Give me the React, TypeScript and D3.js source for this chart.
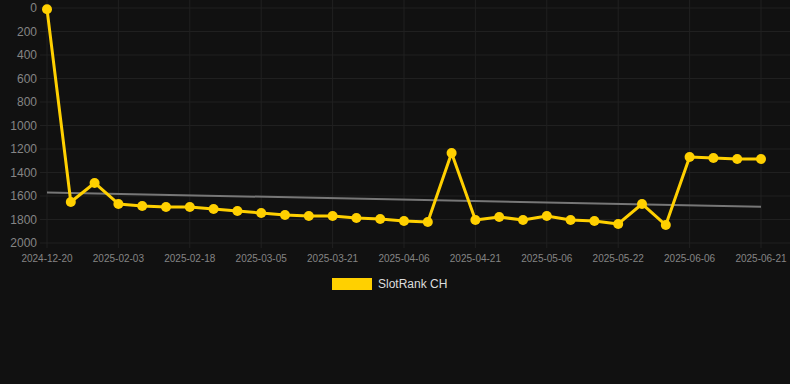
import React from "react";
import * as d3 from "d3";

const tickLabels = ["2024-12-20","2025-02-03","2025-02-18","2025-03-05","2025-03-21","2025-04-06","2025-04-21","2025-05-06","2025-05-22","2025-06-06","2025-06-21"];
const rankValues = [10,1651,1489,1668,1685,1694,1694,1711,1728,1745,1762,1770,1770,1787,1796,1813,1821,1234,1804,1779,1804,1770,1804,1813,1838,1668,1847,1268,1277,1285,1285];
const trendValues = [1570, 1691];
const yTicks = [0,200,400,600,800,1000,1200,1400,1600,1800,2000];
const seriesName = "SlotRank CH";

export default function App() {
  const W = 790, H = 384;
  const left = 47, right = 761, top = 8, bottom = 243;
  const x = d3.scaleLinear().domain([0, rankValues.length - 1]).range([left, right]);
  const y = d3.scaleLinear().domain([0, 2000]).range([top, bottom]);
  const line = d3.line<number>().x((_, i) => x(i)).y(d => y(d));
  const gold = "#FFD000";
  const gridC = "#202020";
  const txt = "#858585";
  const font = "Helvetica, Arial, 'Liberation Sans', sans-serif";
  return (
    <svg width={W} height={H} style={{ position: "absolute", left: 0, top: 0, background: "#111111" }} fontFamily={font}>
      <rect x={0} y={0} width={W} height={H} fill="#111111" />
      {yTicks.map(t => (
        <g key={t}>
          <line x1={40} x2={W} y1={y(t)} y2={y(t)} stroke={gridC} strokeWidth={1} />
          <text x={37} y={y(t)} dy="0.35em" textAnchor="end" fill={txt} fontSize={12}>{t}</text>
        </g>
      ))}
      {tickLabels.map((l, i) => (
        <g key={l}>
          <line x1={x(i * 3)} x2={x(i * 3)} y1={0} y2={bottom + 5} stroke={gridC} strokeWidth={1} />
          <text x={x(i * 3)} y={262} textAnchor="middle" fill={txt} fontSize={10}>{l}</text>
        </g>
      ))}
      <line x1={x(0)} x2={x(rankValues.length - 1)} y1={y(trendValues[0])} y2={y(trendValues[1])} stroke="#777777" strokeWidth={2} />
      <path d={line(rankValues) || ""} fill="none" stroke={gold} strokeWidth={3} strokeLinejoin="round" />
      {rankValues.map((v, i) => (
        <circle key={i} cx={x(i)} cy={y(v)} r={5} fill={gold} />
      ))}
      <rect x={332} y={278} width={40} height={12} fill={gold} />
      <text x={378} y={284} dy="0.35em" fill="#dddddd" fontSize={12}>{seriesName}</text>
    </svg>
  );
}
